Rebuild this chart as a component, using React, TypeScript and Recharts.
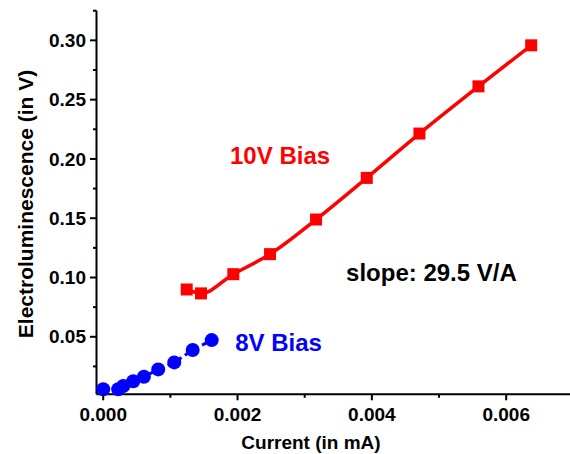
import React from 'react';
import { LineChart, Line, XAxis, YAxis, ReferenceDot } from 'recharts';

// 10V bias series (current in mA, electroluminescence in V)
const bias10Current = [0.001243, 0.001456, 0.001937, 0.002484, 0.003169, 0.003924, 0.004708, 0.005587, 0.006372];
const bias10EL = [0.0899, 0.0866, 0.1028, 0.1197, 0.1489, 0.184, 0.2214, 0.2612, 0.2958];

// 8V bias series
const bias8Current = [0.0, 0.000223, 0.000298, 0.000447, 0.000606, 0.000819, 0.001058, 0.001332, 0.001615];
const bias8EL = [0.0057, 0.0057, 0.0085, 0.0125, 0.0163, 0.0225, 0.0284, 0.0388, 0.0472];

// ticks
const xTicks = [0, 0.001, 0.002, 0.003, 0.004, 0.005, 0.006];
const yTicks = [0.025, 0.05, 0.075, 0.1, 0.125, 0.15, 0.175, 0.2, 0.225, 0.25, 0.275, 0.3, 0.325];

const xDomain = [-0.0001, 0.00695];
const yDomain = [0.0015, 0.325];

const data10 = bias10Current.map((x, i) => ({ x, y: bias10EL[i] }));
const data8 = bias8Current.map((x, i) => ({ x, y: bias8EL[i] }));

const FONT = '"Liberation Sans", Arial, Helvetica, sans-serif';

const XTick = (props: any) => {
  const { x, y, payload } = props;
  const v = payload.value as number;
  const major = Math.round(v * 1000) % 2 === 0;
  return (
    <g>
      <line x1={x} x2={x} y1={y} y2={y + (major ? 6 : 3.5)} stroke="#000" strokeWidth={2} />
      {major && (
        <text x={x} y={y + 26.4} textAnchor="middle" fontFamily={FONT} fontWeight="bold" fontSize={19} fill="#000">
          {v.toFixed(3)}
        </text>
      )}
    </g>
  );
};

const YTick = (props: any) => {
  const { x, y, payload } = props;
  const v = payload.value as number;
  const major = Math.round(v * 1000) % 50 === 0;
  return (
    <g>
      <line x1={x} x2={x - (major ? 6.5 : 3.5)} y1={y} y2={y} stroke="#000" strokeWidth={2} />
      {major && (
        <text x={x - 10.5} y={y + 6.6} textAnchor="end" fontFamily={FONT} fontWeight="bold" fontSize={19} fill="#000">
          {v.toFixed(2)}
        </text>
      )}
    </g>
  );
};

const XTitle = (props: any) => {
  const vb = props.viewBox || { x: 96.5, y: 394.3 };
  return (
    <text x={vb.x + 214.5} y={vb.y + 54.7} textAnchor="middle" fontFamily={FONT} fontWeight="bold" fontSize={19} fill="#000">
      Current (in mA)
    </text>
  );
};

const YTitle = (props: any) => {
  const vb = props.viewBox || { x: 0, y: 10.7, width: 96.5 };
  const cx = vb.x + vb.width - 63.5;
  const cy = vb.y + 193.3;
  return (
    <text x={cx} y={cy} transform={`rotate(-90 ${cx} ${cy})`} textAnchor="middle" fontFamily={FONT} fontWeight="bold" fontSize={21} fill="#000">
      Electroluminescence (in V)
    </text>
  );
};

const makeNote = (txt: string, color: string) => (p: any) => (
  <text x={p.cx} y={p.cy} textAnchor="start" fontFamily={FONT} fontWeight="bold" fontSize={24} fill={color}>
    {txt}
  </text>
);

const SquareDot = (p: any) => (
  <rect key={`sq-${p.index}`} x={p.cx - 6} y={p.cy - 6} width={12} height={12} fill="#ff0000" stroke="none" />
);

const CircleDot = (p: any) => (
  <circle key={`ci-${p.index}`} cx={p.cx} cy={p.cy} r={7} fill="#0000ff" stroke="none" />
);

export default function App() {
  return (
    <div style={{ position: 'absolute', left: 0, top: 0, background: '#fff' }}>
      <LineChart width={570} height={454} margin={{ top: 10.7, right: 0, bottom: 0, left: 0 }}>
        <XAxis
          type="number"
          dataKey="x"
          domain={xDomain}
          ticks={xTicks}
          interval={0}
          height={59.7}
          tickSize={0}
          tickMargin={0}
          tickLine={false}
          axisLine={{ stroke: '#000', strokeWidth: 2 }}
          tick={XTick}
          label={XTitle}
        />
        <YAxis
          type="number"
          dataKey="y"
          domain={yDomain}
          ticks={yTicks}
          interval={0}
          width={96.5}
          tickSize={0}
          tickMargin={0}
          tickLine={false}
          axisLine={{ stroke: '#000', strokeWidth: 2 }}
          tick={YTick}
          label={YTitle}
        />
        <Line
          data={data8}
          dataKey="y"
          type="linear"
          stroke="#0000ff"
          strokeWidth={3}
          strokeDasharray="6 4"
          dot={CircleDot}
          activeDot={false}
          isAnimationActive={false}
        />
        <Line
          data={data10}
          dataKey="y"
          type="monotone"
          stroke="#ff0000"
          strokeWidth={3.5}
          dot={SquareDot}
          activeDot={false}
          isAnimationActive={false}
        />
        <ReferenceDot x={0.001888} y={0.1955} r={1} ifOverflow="visible" shape={makeNote('10V Bias', '#ff0000')} />
        <ReferenceDot x={0.001965} y={0.0382} r={1} ifOverflow="visible" shape={makeNote('8V Bias', '#0000ff')} />
        <ReferenceDot x={0.003616} y={0.0972} r={1} ifOverflow="visible" shape={makeNote('slope: 29.5 V/A', '#000000')} />
      </LineChart>
    </div>
  );
}
